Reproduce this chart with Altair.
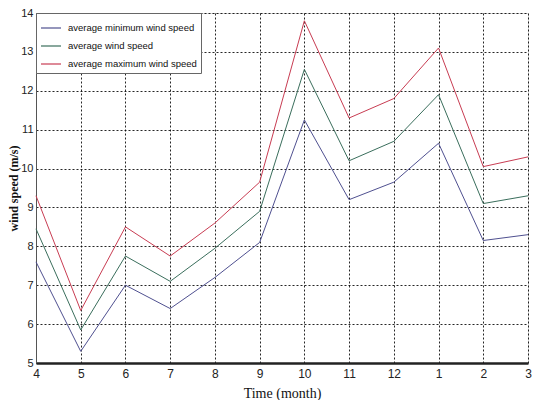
import altair as alt
import pandas as pd

months = ["4", "5", "6", "7", "8", "9", "10", "11", "12", "1", "2", "3"]
avg_min = [7.6, 5.3, 7.0, 6.4, 7.2, 8.1, 11.25, 9.2, 9.65, 10.65, 8.15, 8.3]
avg_mean = [8.45, 5.85, 7.75, 7.1, 7.95, 8.9, 12.55, 10.2, 10.7, 11.9, 9.1, 9.3]
avg_max = [9.3, 6.35, 8.5, 7.75, 8.6, 9.65, 13.8, 11.3, 11.8, 13.1, 10.05, 10.3]
series = ["average minimum wind speed", "average wind speed", "average maximum wind speed"]
colors = ["#4f5090", "#3a6e5c", "#c83c52"]

rows = []
for name, vals in zip(series, [avg_min, avg_mean, avg_max]):
    for m, v in zip(months, vals):
        rows.append({"month": m, "speed": v, "series": name})
df = pd.DataFrame(rows)

sans = "Liberation Sans"
serif = "Liberation Serif"

chart = alt.Chart(df).mark_line(strokeWidth=1).encode(
    x=alt.X("month:O", sort=months,
            scale=alt.Scale(type="point", padding=0),
            axis=alt.Axis(title="Time (month)", labelAngle=0,
                          grid=True, gridColor="#000000", gridDash=[2, 2], gridOpacity=0.85,
                          gridWidth=1,
                          domainColor="#222222", domainWidth=2.5,
                          ticks=False, labelPadding=5,
                          labelFont=sans, labelFontSize=12, labelColor="#222222",
                          titleFont=serif, titleFontSize=14, titleFontWeight="normal",
                          titleColor="#111111", titlePadding=7)),
    y=alt.Y("speed:Q", scale=alt.Scale(domain=[5, 14], nice=False, zero=False),
            axis=alt.Axis(title="wind speed (m/s)", values=list(range(5, 15)),
                          grid=True, gridColor="#000000", gridDash=[2, 2], gridOpacity=0.85,
                          gridWidth=1,
                          domainColor="#555555", domainWidth=1,
                          ticks=False, labelPadding=3,
                          labelFont=sans, labelFontSize=11, labelColor="#222222",
                          titleFont=serif, titleFontSize=12, titleFontWeight="bold",
                          titleColor="#111111", titlePadding=0)),
    color=alt.Color("series:N", sort=series,
                    scale=alt.Scale(domain=series, range=colors),
                    legend=alt.Legend(title=None, orient="none", legendX=0, legendY=0,
                                      symbolType="stroke", symbolSize=400,
                                      symbolStrokeWidth=1.2,
                                      labelFont=sans, labelFontSize=9.5,
                                      labelColor="#111111", rowPadding=2,
                                      padding=4, strokeColor="#666666",
                                      fillColor="#ffffff", labelOffset=6,
                                      labelLimit=300)),
).properties(
    width=492, height=350,
    autosize=alt.AutoSizeParams(type="none"),
    padding={"left": 28, "top": 5, "right": 4, "bottom": 37},
).configure_view(
    stroke="#777777", strokeWidth=1
).configure(background="#ffffff")

chart.save("out.html", embed_options={"renderer": "svg", "actions": False})
